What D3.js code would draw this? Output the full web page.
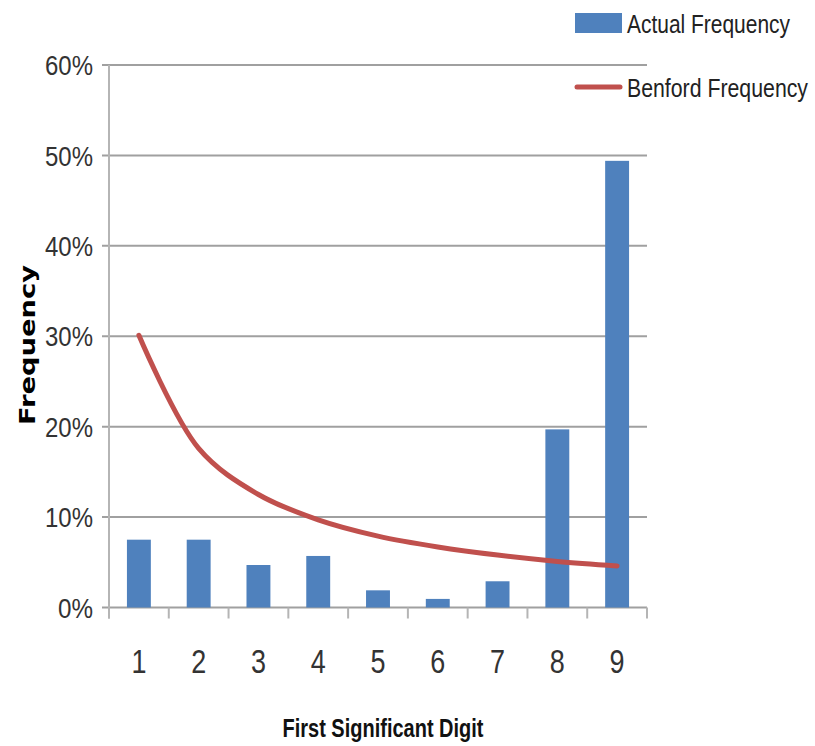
<!DOCTYPE html>
<html>
<head>
<meta charset="utf-8">
<script src="https://cdn.jsdelivr.net/npm/d3@7/dist/d3.min.js"></script>
<style>
  html, body { margin: 0; padding: 0; background: #fff; }
  svg { display: block; }
</style>
</head>
<body>
<svg id="chart" width="815" height="746"></svg>
<script>
// First significant digit distribution vs. Benford's law
const digits = ["1", "2", "3", "4", "5", "6", "7", "8", "9"];
const actualFrequency = [0.075, 0.075, 0.047, 0.057, 0.019, 0.0095, 0.029, 0.197, 0.494];
const benfordFrequency = [0.301, 0.176, 0.125, 0.097, 0.079, 0.067, 0.058, 0.051, 0.046];
const yTicks = [0, 0.1, 0.2, 0.3, 0.4, 0.5, 0.6];
const seriesNames = ["Actual Frequency", "Benford Frequency"];

const barColor = "#4f81bd";
const lineColor = "#c0504d";
const gridColor = "#a0a0a0";
const narrow = "'Liberation Sans Narrow', 'Liberation Sans', Arial, sans-serif";

const svg = d3.select("#chart");
const plot = { left: 109, right: 647, top: 65, bottom: 607.5 };

const x = d3.scaleBand()
  .domain(digits)
  .range([plot.left, plot.right])
  .paddingInner(0.6)
  .paddingOuter(0.3);

const y = d3.scaleLinear()
  .domain([0, 0.6])
  .range([plot.bottom, plot.top]);

// horizontal gridlines (including the baseline)
svg.append("g")
  .selectAll("line")
  .data(yTicks)
  .join("line")
  .attr("x1", plot.left - 7)
  .attr("x2", plot.right)
  .attr("y1", d => y(d))
  .attr("y2", d => y(d))
  .attr("stroke", gridColor)
  .attr("stroke-width", 2);

// vertical axis line
svg.append("line")
  .attr("x1", plot.left).attr("x2", plot.left)
  .attr("y1", y(0.6)).attr("y2", plot.bottom + 11)
  .attr("stroke", "#b5b5b5")
  .attr("stroke-width", 2);

// category boundary tick marks
const edges = d3.range(digits.length + 1).map(i => x.range()[0] + i * x.step());
svg.append("g")
  .selectAll("line")
  .data(edges)
  .join("line")
  .attr("x1", d => d).attr("x2", d => d)
  .attr("y1", plot.bottom).attr("y2", plot.bottom + 11)
  .attr("stroke", "#b5b5b5")
  .attr("stroke-width", 2);

// y axis labels
const yAxis = d3.axisLeft(y)
  .tickValues(yTicks)
  .tickFormat(d3.format(".0%"))
  .tickSize(0)
  .tickPadding(0);
const gy = svg.append("g")
  .attr("transform", `translate(${plot.left - 16},0)`)
  .call(yAxis);
gy.select(".domain").remove();
gy.selectAll("text")
  .attr("font-family", narrow)
  .attr("font-size", 27)
  .attr("fill", "#333")
  .attr("dy", "0.36em")
  .attr("x", 0)
  .attr("textLength", d => d === 0 ? 35 : 48)
  .attr("lengthAdjust", "spacingAndGlyphs");

// x axis labels
const xAxis = d3.axisBottom(x).tickSize(0).tickPadding(0);
const gx = svg.append("g")
  .attr("transform", `translate(0,${plot.bottom})`)
  .call(xAxis);
gx.select(".domain").remove();
gx.selectAll("text")
  .attr("font-family", narrow)
  .attr("font-size", 34)
  .attr("fill", "#333")
  .attr("y", 65)
  .attr("dy", 0)
  .attr("textLength", 15)
  .attr("lengthAdjust", "spacingAndGlyphs");

// actual frequency bars
svg.append("g")
  .selectAll("rect")
  .data(digits)
  .join("rect")
  .attr("x", d => x(d))
  .attr("width", x.bandwidth())
  .attr("y", (d, i) => y(actualFrequency[i]))
  .attr("height", (d, i) => y(0) - y(actualFrequency[i]))
  .attr("fill", barColor);

// Benford expected frequency curve
const line = d3.line()
  .x((d, i) => x(digits[i]) + x.bandwidth() / 2)
  .y(d => y(d))
  .curve(d3.curveCatmullRom.alpha(0.5));
svg.append("path")
  .datum(benfordFrequency)
  .attr("d", line)
  .attr("fill", "none")
  .attr("stroke", lineColor)
  .attr("stroke-width", 5)
  .attr("stroke-linecap", "round");

// axis titles
svg.append("text")
  .attr("x", 383)
  .attr("y", 737)
  .attr("text-anchor", "middle")
  .attr("font-family", narrow)
  .attr("font-weight", "bold")
  .attr("font-size", 26)
  .attr("fill", "#111")
  .attr("textLength", 201)
  .attr("lengthAdjust", "spacingAndGlyphs")
  .text("First Significant Digit");

svg.append("text")
  .attr("transform", "translate(35,345) rotate(-90)")
  .attr("text-anchor", "middle")
  .attr("font-family", "'DejaVu Sans', Verdana, sans-serif")
  .attr("font-weight", "bold")
  .attr("font-size", 21)
  .attr("fill", "#000")
  .attr("textLength", 160)
  .attr("lengthAdjust", "spacingAndGlyphs")
  .text("Frequency");

// legend
const legend = svg.append("g");
legend.append("rect")
  .attr("x", 575).attr("y", 13)
  .attr("width", 47).attr("height", 20)
  .attr("fill", barColor);
legend.append("line")
  .attr("x1", 577).attr("x2", 620)
  .attr("y1", 87).attr("y2", 87)
  .attr("stroke", lineColor)
  .attr("stroke-width", 5)
  .attr("stroke-linecap", "round");
legend.selectAll("g.entry")
  .data(seriesNames)
  .join("g")
  .attr("class", "entry")
  .attr("transform", (d, i) => `translate(627,${i === 0 ? 33 : 97}) scale(1,1.27)`)
  .append("text")
  .attr("x", 0)
  .attr("y", 0)
  .attr("font-family", narrow)
  .attr("font-size", 21)
  .attr("fill", "#222")
  .attr("textLength", (d, i) => i === 0 ? 163 : 181)
  .attr("lengthAdjust", "spacingAndGlyphs")
  .text(d => d);
</script>
</body>
</html>
